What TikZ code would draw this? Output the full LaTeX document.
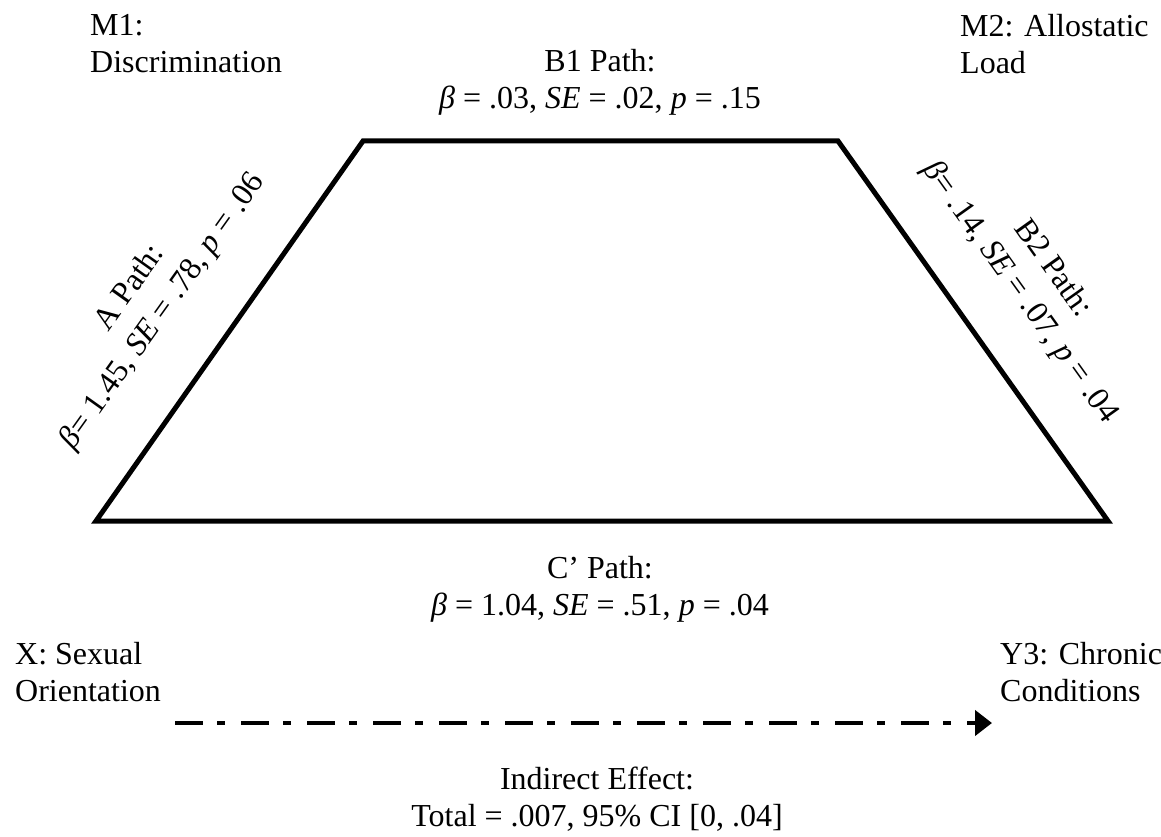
\documentclass[tikz,border=0pt]{standalone}
\usepackage{fontspec}
\setmainfont{Liberation Serif}
\usetikzlibrary{arrows.meta}
\tikzset{
  lbl/.style={inner sep=0pt, font=\fontsize{32}{37}\selectfont, align=center},
  rlbl/.style={inner sep=0pt, font=\fontsize{32}{40}\selectfont, align=center},
  lbll/.style={inner sep=0pt, font=\fontsize{32}{37}\selectfont, align=left, anchor=west},
  edge/.style={line width=5pt, line join=miter},
  dashdotarrow/.style={line width=4.5pt, dash pattern=on 28pt off 14pt on 8pt off 16pt,
    -{Triangle[length=17pt,width=25pt]}}
}
\begin{document}
\begin{tikzpicture}[x=1pt,y=-1pt]
\useasboundingbox (0,0) rectangle (1161,837);
% trapezoid
\coordinate (tl) at (363,141);
\coordinate (tr) at (838,141);
\coordinate (br) at (1108,521);
\coordinate (bl) at (96,521);
\draw[edge] (tl) -- (tr) -- (br) -- (bl) -- cycle;
% corner labels
\node[lbll] (m1) at (90,44) {M1:\\Discrimination};
\node[lbll] (m2) at (960,44) {M2: Allostatic\\Load};
\node[lbll] (x) at (15,672) {X: Sexual\\Orientation};
\node[lbll] (y3) at (1000,672) {Y3: Chronic\\Conditions};
% path labels
\node[lbl] (b1) at (600,82) {B1 Path:\\\textit{β} = .03, \textit{SE} = .02, \textit{p} = .15};
\node[rlbl, rotate=54.5] (a) at (147,300) {A Path:\\\textit{β}= 1.45, \textit{SE} = .78, \textit{p} = .06};
\node[rlbl, rotate=-54.5] (b2) at (1036,281) {B2 Path:\\\textit{β}= .14, \textit{SE} = .07, \textit{p} = .04};
\node[lbl] (c) at (600,589) {C’ Path:\\\textit{β} = 1.04, \textit{SE} = .51, \textit{p} = .04};
\node[lbl] (ind) at (597,799) {Indirect Effect:\\Total = .007, 95\% CI [0, .04]};
% indirect arrow
\coordinate (as) at (175,723);
\coordinate (ae) at (992,723);
\draw[dashdotarrow] (as) -- (ae);
\end{tikzpicture}
\end{document}
